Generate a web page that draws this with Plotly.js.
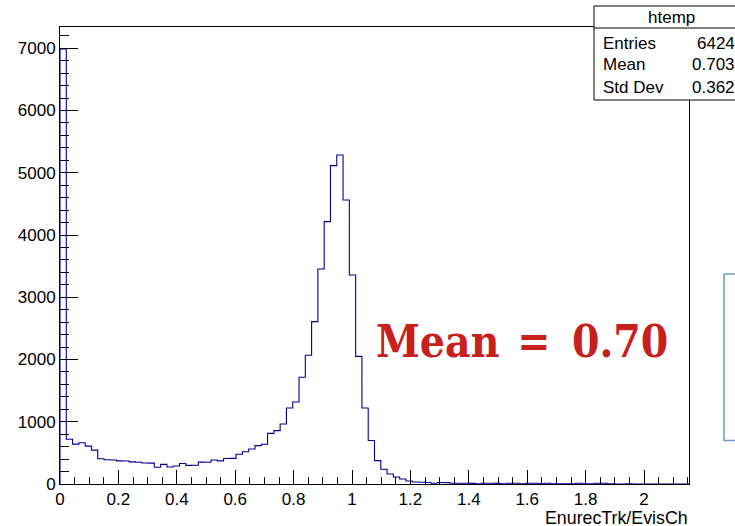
<!DOCTYPE html>
<html>
<head>
<meta charset="utf-8">
<script src="https://cdn.plot.ly/plotly-3.0.1.min.js"></script>
<style>
  html, body { margin: 0; padding: 0; background: #ffffff; overflow: hidden; }
  #plot { width: 735px; height: 526px; }
</style>
</head>
<body>
<div id="plot"></div>
<script>
// Histogram of EnurecTrk/EvisCh: 100 equal bins
const histName = 'htemp';
const xTitle = 'EnurecTrk/EvisCh';
const xMin = 0;
const xMax = 2.154;
const nBins = 100;

// bin contents, left to right
const counts = [
  6990, 720, 640, 662, 608, 545, 405, 390, 385, 372,
  370, 355, 350, 338, 335, 270, 315, 272, 290, 330,
  300, 302, 352, 350, 386, 372, 410, 412, 478, 519,
  562, 616, 638, 814, 857, 964, 1220, 1318, 1716, 2068,
  2608, 3454, 4215, 5115, 5286, 4563, 3358, 2050, 1220, 700,
  375, 236, 160, 112, 80, 48, 32, 28, 25, 12,
  25, 22, 12, 12, 12, 10, 4, 12, 12, 10,
  4, 12, 12, 3, 12, 12, 3, 12, 3, 2,
  2, 3, 12, 3, 2, 12, 12, 2, 1, 1,
  2, 1, 0, 1, 0, 0, 1, 0, 0, 0
];

// statistics box rows
const statLabels = ['Entries', 'Mean', 'Std Dev'];
const statValues = ['64247', '0.7033', '0.3621'];

const meanNote = 'Mean\u00a0\u200a=\u00a0\u20090.70';

// frame geometry in pixels
const W = 735, H = 526;
const frame = { l: 60, r: 689, t: 27, b: 484 };
const yMax = 7342;

const px = x => (x - frame.l) / (frame.r - frame.l);
const py = y => (frame.b - y) / (frame.b - frame.t);

// step outline of the histogram
const binW = (xMax - xMin) / nBins;
const stepX = [xMin];
const stepY = [0];
for (let i = 0; i < nBins; i++) {
  stepX.push(xMin + i * binW);
  stepY.push(counts[i]);
}
stepX.push(xMin + nBins * binW);
stepY.push(counts[nBins - 1]);

const histTrace = {
  type: 'scatter',
  mode: 'lines',
  x: stepX,
  y: stepY,
  line: { shape: 'hv', color: '#000099', width: 1.1 },
  hoverinfo: 'skip',
  showlegend: false
};

const tickFont = { family: 'Liberation Sans, Arial, sans-serif', size: 17, color: '#000' };
const statFont = { family: 'Liberation Sans, Arial, sans-serif', size: 17, color: '#000' };

const annotations = [
  {
    text: xTitle, xref: 'paper', yref: 'paper',
    x: 1, y: py(517.5), xanchor: 'right', yanchor: 'middle',
    showarrow: false, borderpad: 0,
    font: { family: tickFont.family, size: 17.8, color: '#000' }
  },
  {
    text: histName, xref: 'paper', yref: 'paper',
    x: px(671), y: py(17), xanchor: 'center', yanchor: 'middle',
    showarrow: false, font: statFont
  },
  {
    text: meanNote, xref: 'paper', yref: 'paper',
    x: px(374), y: py(341), xanchor: 'left', yanchor: 'middle',
    showarrow: false,
    font: { family: 'DejaVu Serif Condensed, DejaVu Serif, serif', size: 44, color: '#c8201c', weight: 'bold' }
  }
];

const rowY = [43, 65, 87];
statLabels.forEach((lab, i) => {
  annotations.push({
    text: lab, xref: 'paper', yref: 'paper',
    x: px(601), y: py(rowY[i]), xanchor: 'left', yanchor: 'middle',
    showarrow: false, font: statFont
  });
  annotations.push({
    text: statValues[i], xref: 'paper', yref: 'paper',
    x: px(746), y: py(rowY[i]), xanchor: 'right', yanchor: 'middle',
    showarrow: false, font: statFont
  });
});

const shapes = [
  // statistics box
  {
    type: 'rect', xref: 'paper', yref: 'paper', layer: 'above',
    x0: px(594), x1: px(750), y0: py(100), y1: py(6),
    line: { color: '#000', width: 1 }, fillcolor: '#ffffff'
  },
  {
    type: 'line', xref: 'paper', yref: 'paper', layer: 'above',
    x0: px(594), x1: px(750), y0: py(28), y1: py(28),
    line: { color: '#000', width: 1 }
  },
  // side panel outline
  {
    type: 'rect', xref: 'paper', yref: 'paper', layer: 'above',
    x0: px(724), x1: px(770), y0: py(440.5), y1: py(274),
    line: { color: '#6f9cc6', width: 1.6 }, fillcolor: 'rgba(0,0,0,0)'
  }
];

const layout = {
  width: W,
  height: H,
  margin: { l: frame.l, r: W - frame.r, t: frame.t, b: H - frame.b, pad: 0 },
  paper_bgcolor: '#ffffff',
  plot_bgcolor: '#ffffff',
  showlegend: false,
  xaxis: {
    range: [xMin, xMax],
    showline: true, linecolor: '#000', linewidth: 1, mirror: true,
    showgrid: false, zeroline: false,
    ticks: 'inside', ticklen: 14, tickwidth: 1, tickcolor: '#000',
    tickmode: 'linear', tick0: 0, dtick: 0.2,
    minor: { tickmode: 'linear', tick0: 0, dtick: 0.05, ticks: 'inside', ticklen: 7, tickwidth: 1, tickcolor: '#000', showgrid: false },
    tickfont: tickFont,
    fixedrange: true
  },
  yaxis: {
    range: [0, yMax],
    showline: true, linecolor: '#000', linewidth: 1, mirror: true,
    showgrid: false, zeroline: false,
    ticks: 'inside', ticklen: 18, tickwidth: 1, tickcolor: '#000',
    tickmode: 'linear', tick0: 0, dtick: 1000, tickformat: 'd',
    minor: { tickmode: 'linear', tick0: 0, dtick: 200, ticks: 'inside', ticklen: 9, tickwidth: 1, tickcolor: '#000', showgrid: false },
    tickfont: tickFont,
    fixedrange: true
  },
  annotations: annotations,
  shapes: shapes
};

Plotly.newPlot('plot', [histTrace], layout, { displayModeBar: false, staticPlot: true });
</script>
</body>
</html>
